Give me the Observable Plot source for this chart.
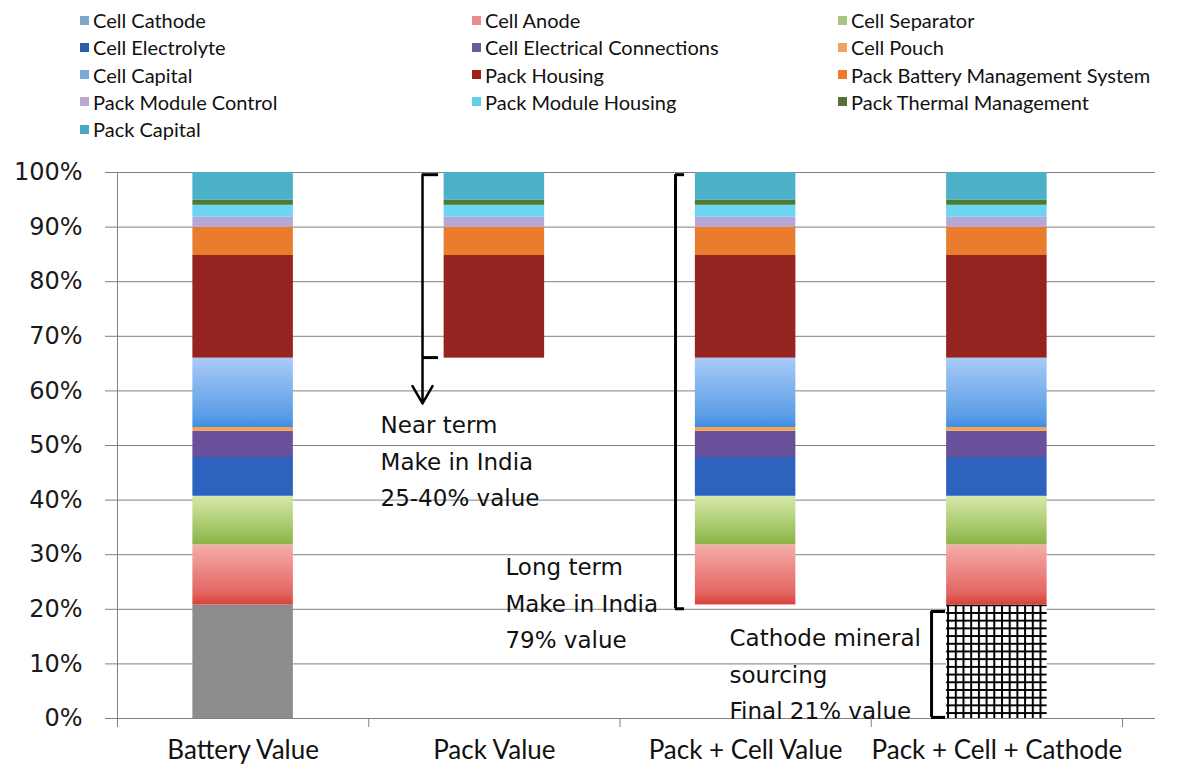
<!DOCTYPE html>
<html>
<head>
<meta charset="utf-8">
<script src="https://cdn.jsdelivr.net/npm/d3@7"></script>
<script src="https://cdn.jsdelivr.net/npm/@observablehq/plot@0.6"></script>
<style>
  body { margin: 0; background: #fff; width: 1179px; height: 775px; overflow: hidden; font-family: Lato, sans-serif; }
  #legend { position: relative; height: 150px; }
  .item { position: absolute; display: flex; align-items: center; font-size: 20px; color: #111; white-space: nowrap; line-height: 1; }
  .sw { width: 9px; height: 9px; flex: none; }
  #chart svg { display: block; }
</style>
</head>
<body>
<svg width="0" height="0" style="position:absolute">
  <defs>
    <linearGradient id="g-anode" x1="0" y1="0" x2="0" y2="1">
      <stop offset="0" stop-color="#f6aeab"/>
      <stop offset="0.8" stop-color="#e36662"/>
      <stop offset="1" stop-color="#d9403c"/>
    </linearGradient>
    <linearGradient id="g-sep" x1="0" y1="0" x2="0" y2="1">
      <stop offset="0" stop-color="#d7e9aa"/>
      <stop offset="1" stop-color="#8ab446"/>
    </linearGradient>
    <linearGradient id="g-cap" x1="0" y1="0" x2="0" y2="1">
      <stop offset="0" stop-color="#a9cbf6"/>
      <stop offset="0.85" stop-color="#5a9ce6"/>
      <stop offset="1" stop-color="#3e8ee3"/>
    </linearGradient>
    <pattern id="hatch" width="7.7" height="7.7" patternUnits="userSpaceOnUse">
      <rect width="7.7" height="7.7" fill="#fff"/>
      <path d="M1 0V7.7M0 1H7.7" stroke="#000" stroke-width="2"/>
    </pattern>
  </defs>
</svg>
<div id="legend"></div>
<div id="chart"></div>
<script>
// ---- data ----
const categories = ["Battery Value", "Pack Value", "Pack + Cell Value", "Pack + Cell + Cathode"];
const series = [
  "Cell Cathode", "Cell Anode", "Cell Separator",
  "Cell Electrolyte", "Cell Electrical Connections", "Cell Pouch",
  "Cell Capital", "Pack Housing", "Pack Battery Management System",
  "Pack Module Control", "Pack Module Housing", "Pack Thermal Management",
  "Pack Capital"
];
const shares = [20.8, 11.0, 8.9, 7.1, 4.8, 0.7, 12.7, 18.8, 5.2, 1.8, 2.2, 0.9, 5.1];
const cellSeries = series.filter(s => s.startsWith("Cell") && s !== "Cell Cathode");
const packSeries = series.filter(s => s.startsWith("Pack"));
const visibleSeries = [
  series,
  packSeries,
  [...cellSeries, ...packSeries],
  series
];
const legendColors = ["#7ea6c9", "#e68f8c", "#a6c77d", "#2f5ea8", "#6e5b98", "#f0a263", "#7ba6e0",
                      "#9f201b", "#eb7b2b", "#b9aad4", "#5fcfea", "#55703b", "#4aa9c2"];
const barFills = ["#8c8c8c", "url(#g-anode)", "url(#g-sep)", "#2d62be", "#6a519b", "#f4a24f", "url(#g-cap)",
                  "#952320", "#ea7d2d", "#b5a7d6", "#6dd5f1", "#4e7a30", "#4cb0c8"];
const cathodeFills = ["#8c8c8c", null, null, "url(#hatch)"];
const yTicks = [0, 0.1, 0.2, 0.3, 0.4, 0.5, 0.6, 0.7, 0.8, 0.9, 1];

// annotations
const notes = ["Near term\nMake in India\n25-40% value", "Long term\nMake in India\n79% value", "Cathode mineral\nsourcing\nFinal 21% value"];
const noteX = [0.547, 1.044, 1.936];
const noteY = [0.569, 0.309, 0.179];
const bracketX = [0.714, 1.721, 2.740];
const bracketTop = [0.996, 0.996, 0.196];
const bracketBottom = [0.577, 0.201, 0.002];
const bracketTickEnd = [0.778, 1.757, 2.796];
const bracketTicks = [[0.996, 0.661], [0.996, 0.201], [0.196, 0.002]];

// ---- build tables ----
const rows = [];
categories.forEach((cat, ci) => {
  let acc = 0;
  series.forEach((s, si) => {
    const v = shares[si] / 100;
    if (visibleSeries[ci].includes(s)) {
      rows.push({i: ci, series: s, y1: acc, y2: acc + v, fill: si === 0 ? cathodeFills[ci] : barFills[si]});
    }
    acc += v;
  });
});
const noteRows = notes.map((t, k) => ({text: t, x: noteX[k], y: noteY[k]}));
const lineRows = [1, 2].map(k => ({x: bracketX[k], y1: bracketTop[k], y2: bracketBottom[k]}));
const arrowRows = [{x: bracketX[0], y1: bracketTop[0], y2: bracketBottom[0]}];
const tickRows = bracketTicks.flatMap((ys, k) => ys.map(y => ({x1: bracketX[k], x2: bracketTickEnd[k], y})));

// ---- legend ----
const legendCols = [80, 472, 838];
const legend = d3.select("#legend");
series.forEach((s, i) => {
  const col = i % 3, row = Math.floor(i / 3);
  const item = legend.append("div").attr("class", "item")
    .style("left", legendCols[col] + "px")
    .style("top", (10 + row * 27.3) + "px");
  item.append("div").attr("class", "sw").style("background", legendColors[i]).style("margin-right", "4px");
  item.append("span").text(s);
});

// ---- chart ----
const plot = Plot.plot({
  width: 1179,
  height: 625,
  marginTop: 22,
  marginBottom: 57,
  marginLeft: 117,
  marginRight: 24,
  style: {fontFamily: "'DejaVu Sans', sans-serif", background: "#fff", overflow: "visible"},
  x: {type: "linear", domain: [-0.5, 3.5], range: [117, 1122]},
  y: {domain: [0, 1]},
  color: {type: "identity"},
  marks: [
    Plot.gridY({ticks: yTicks, stroke: "#808080", strokeOpacity: 1}),
    Plot.rect(rows, {x1: d => d.i - 0.2, x2: d => d.i + 0.2, y1: "y1", y2: "y2", fill: "fill"}),
    Plot.ruleY([0], {x1: -0.5, x2: 3.5, stroke: "#808080"}),
    Plot.ruleX([-0.5], {y1: -0.006, y2: 1, stroke: "#808080"}),
    Plot.axisY({ticks: yTicks, tickFormat: d3.format(".0%"), tickSize: 12, tickPadding: 23, fontSize: 24, stroke: "#808080", fill: "#1a1a1a", label: null}),
    Plot.axisX({ticks: [0, 1, 2, 3], tickFormat: i => categories[i], tickSize: 0, tickPadding: 22, fontSize: 26, fontFamily: "Lato, sans-serif", fill: "#111", label: null}),
    Plot.axisX({ticks: [-0.5, 0.5, 1.5, 2.5, 3.5], tickFormat: () => "", tickSize: 9, stroke: "#808080", label: null}),
    Plot.ruleX(lineRows, {x: "x", y1: "y1", y2: "y2", stroke: "#000", strokeWidth: 3}),
    Plot.arrow(arrowRows, {x1: "x", x2: "x", y1: "y1", y2: "y2", stroke: "#000", strokeWidth: 2.5, headLength: 12}),
    Plot.ruleY(tickRows, {y: "y", x1: "x1", x2: "x2", stroke: "#000", strokeWidth: 3}),
    Plot.text(noteRows, {x: "x", y: "y", text: "text", textAnchor: "start", lineAnchor: "top", lineHeight: 1.57, fontSize: 23, fill: "#111"})
  ]
});
document.getElementById("chart").appendChild(plot);
</script>
</body>
</html>
